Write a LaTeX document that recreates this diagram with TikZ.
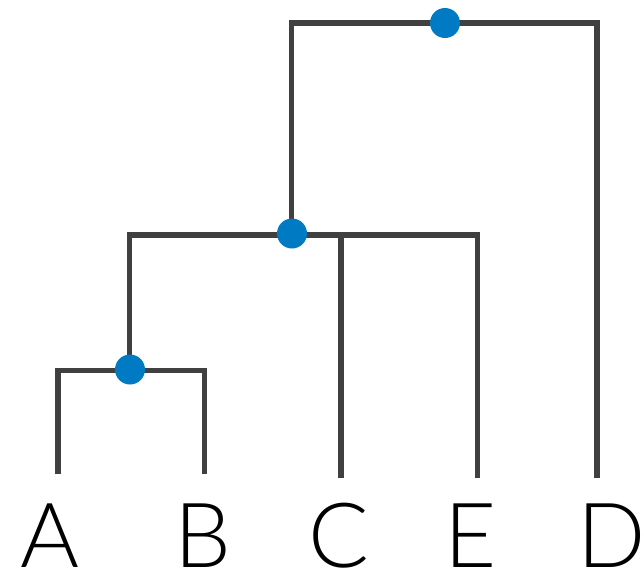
\documentclass[tikz,border=0pt]{standalone}
\usepackage{fontspec}
\setmainfont{Lato Light}
\definecolor{branch}{HTML}{404040}
\definecolor{dotblue}{HTML}{007AC2}
\begin{document}
\begin{tikzpicture}[x=1pt,y=1pt,
  branchline/.style={draw=branch,line width=5.5pt,line cap=butt,line join=miter},
  nodedot/.style={circle,fill=dotblue,draw=none,minimum size=30pt,inner sep=0pt},
  leaflabel/.style={anchor=base,inner sep=0pt,font=\fontsize{90}{90}\selectfont}]
\useasboundingbox (0,0) rectangle (644,-574);
% leaf labels
\node[leaflabel] (A) at (50,-567) {A};
\node[leaflabel] (B) at (203,-567) {B};
\node[leaflabel] (C) at (339,-567) {C};
\node[leaflabel] (E) at (471,-567) {E};
\node[leaflabel] (D) at (612,-567) {D};
% leaf tips
\coordinate (tA) at (58,-474);
\coordinate (tB) at (204.5,-474);
\coordinate (tC) at (341,-478);
\coordinate (tE) at (477.5,-478);
\coordinate (tD) at (597,-478);
% corners
\coordinate (cA) at (58,-370.5);
\coordinate (cB) at (204.5,-370.5);
\coordinate (m1) at (129.5,-370.5);
\coordinate (cL) at (129.5,-235);
\coordinate (cC) at (341,-235);
\coordinate (cE) at (477.5,-235);
\coordinate (m2) at (291.5,-235);
\coordinate (m2b) at (291.5,-248);
\coordinate (cT) at (291.5,-23);
\coordinate (cD) at (597,-23);
% branches
\draw[branchline] (tA) -- (cA) -- (cB) -- (tB);
\draw[branchline] (m1) -- (cL) -- (cE) -- (tE);
\draw[branchline] (cC) -- (tC);
\draw[branchline] (m2b) -- (cT) -- (cD) -- (tD);
% internal node dots
\node[nodedot] (n1) at (130,-369.5) {};
\node[nodedot] (n2) at (292,-233.5) {};
\node[nodedot] (n3) at (445,-23) {};
\end{tikzpicture}
\end{document}
